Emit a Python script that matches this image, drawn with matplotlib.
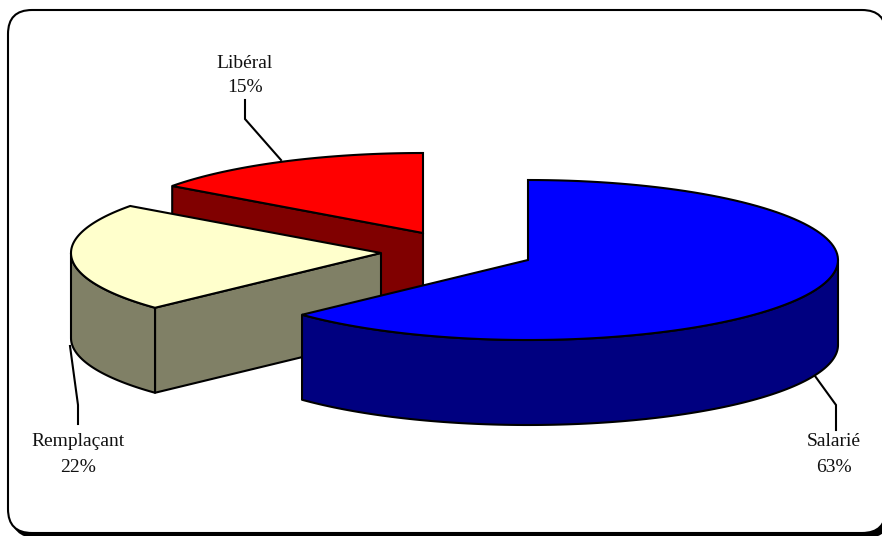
import matplotlib.pyplot as plt
from matplotlib.patches import FancyBboxPatch, Polygon
import numpy as np

labels = ["Salarié", "Remplaçant", "Libéral"]
values = [63, 22, 15]

# exploded apex of each slice, in pixels
apex = {"Salarié": (528, 260), "Remplaçant": (381, 253), "Libéral": (423, 233)}
top_colors = {"Salarié": "#0000FF", "Remplaçant": "#FFFFCC", "Libéral": "#FF0000"}
side_colors = {"Salarié": "#000080", "Remplaçant": "#808066", "Libéral": "#800000"}
label_pos = {"Salarié": (834, 442), "Remplaçant": (78, 442), "Libéral": (245, 63)}
leaders = {
    "Salarié": [(836, 430), (836, 405), (815, 376)],
    "Remplaçant": [(78, 424), (78, 405), (70, 346)],
    "Libéral": [(245, 100), (245, 119), (281, 160)],
}

RX, RY, DEPTH = 310, 80, 85
LW = 1.5

plt.rcParams["font.family"] = ["Liberation Serif", "DejaVu Serif"]
fig = plt.figure(figsize=(8.82, 5.36), dpi=100)
ax = fig.add_axes([0, 0, 1, 1])
ax.set_xlim(0, 882)
ax.set_ylim(536, 0)
ax.axis("off")

# frame with its black shadow
for off, fc in [(4, "black"), (0, "white")]:
    ax.add_patch(
        FancyBboxPatch(
            (8 + 24 + off, 10 + 24 + off),
            878 - 48,
            523 - 48,
            boxstyle="round,pad=24,rounding_size=24",
            fc=fc,
            ec="black",
            lw=LW,
            zorder=0,
        )
    )


def rim(name, a0, a1, n=120):
    # points along the ellipse, angles in degrees counter-clockwise on screen
    t = np.radians(np.linspace(a0, a1, n))
    cx, cy = apex[name]
    return np.column_stack([cx + RX * np.cos(t), cy - RY * np.sin(t)])


# slices run clockwise from 12 o'clock
starts = 90 - np.cumsum([0] + values[:-1]) * 3.6
ends = 90 - np.cumsum(values) * 3.6
angles = {n: (s, e) for n, s, e in zip(labels, starts, ends)}

# back to front
for name in ["Libéral", "Remplaçant", "Salarié"]:
    a0, a1 = angles[name]
    side = dict(fc=side_colors[name], ec="black", lw=LW, joinstyle="round")
    cx, cy = apex[name]

    # cut face on the clockwise end when it looks towards the viewer
    if name != "Salarié":
        p = rim(name, a0, a0, 1)[0]
        face = [(cx, cy), tuple(p), (p[0], p[1] + DEPTH), (cx, cy + DEPTH)]
        ax.add_patch(Polygon(face, closed=True, zorder=2, **side))

    # outer wall, only the lower half of the ellipse shows (angles 0 to -180)
    hi, lo = min(a0, 0), max(a1, -180)
    if hi > lo:
        edge = rim(name, hi, lo)
        wall = np.vstack([edge, edge[::-1] + [0, DEPTH]])
        ax.add_patch(Polygon(wall, closed=True, zorder=2, **side))

    # top surface
    top = np.vstack([[(cx, cy)], rim(name, a0, a1)])
    ax.add_patch(
        Polygon(top, closed=True, fc=top_colors[name], ec="black", lw=LW, zorder=2, joinstyle="miter")
    )

for name, val in zip(labels, values):
    xs, ys = zip(*leaders[name])
    ax.plot(xs, ys, color="black", lw=LW, zorder=3, solid_joinstyle="miter")
    x, y = label_pos[name]
    ax.text(x, y, name, ha="center", va="center", fontsize=14, color="#111111")
    ax.text(x, y + 25, f"{val}%", ha="center", va="center", fontsize=14, color="#111111")

fig.savefig("out.png", dpi=100)
